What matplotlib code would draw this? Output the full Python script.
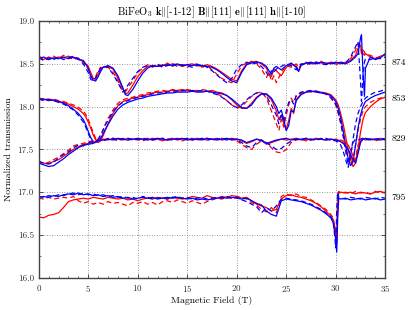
import matplotlib
matplotlib.use("Agg")
import matplotlib.pyplot as plt
from matplotlib.ticker import MultipleLocator

plt.rcParams['font.family'] = 'serif'
plt.rcParams['font.serif'] = ['cmr10']
plt.rcParams['mathtext.fontset'] = 'cm'
plt.rcParams['axes.formatter.use_mathtext'] = True

# ---------------- data ----------------
labels = ['874', '853', '829', '795']
label_y = [18.51, 18.09, 17.62, 16.93]

x874 = [0, 0.5, 1, 1.5, 2, 2.5, 3, 3.5, 4, 4.5, 5,
        5.25, 5.5, 5.75, 6, 6.25, 6.5,
        7, 7.5, 8, 8.5,
        8.75, 9,
        9.5, 10, 10.5, 11, 11.5, 12, 12.5, 13, 13.5, 14, 14.5, 15, 15.5, 16, 16.5, 17,
        17.5, 18, 18.5, 19, 19.5, 20, 20.5, 21, 21.5, 22, 22.5, 23,
        23.25, 23.5, 23.75, 24,
        24.5, 25, 25.5, 26,
        26.25, 26.5,
        27, 27.5, 28, 28.5, 29, 29.5, 30, 30.5, 31, 31.5, 32,
        32.25, 32.5, 32.6, 32.75, 32.9, 33,
        33.5, 34, 34.5, 35]
r874_solid = [18.57, 18.55, 18.58, 18.56, 18.58, 18.57, 18.59, 18.57, 18.56, 18.53, 18.47,
              18.40, 18.33, 18.32, 18.38, 18.43, 18.46,
              18.47, 18.44, 18.33, 18.21,
              18.15, 18.16,
              18.25, 18.35, 18.42, 18.47, 18.48, 18.47, 18.49, 18.48, 18.50, 18.49, 18.47, 18.49, 18.50, 18.48, 18.47, 18.49,
              18.47, 18.44, 18.40, 18.36, 18.32, 18.30, 18.42, 18.50, 18.52, 18.53, 18.50, 18.45,
              18.38, 18.35, 18.44, 18.42,
              18.36, 18.46, 18.50, 18.47,
              18.42, 18.48,
              18.51, 18.50, 18.52, 18.51, 18.50, 18.52, 18.51, 18.50, 18.52, 18.54, 18.60,
              18.68, 18.72, 18.66, 18.62, 18.60, 18.62,
              18.58, 18.56, 18.59, 18.60]
r874_dash = [18.59, 18.56, 18.55, 18.59, 18.56, 18.60, 18.58, 18.55, 18.57, 18.52, 18.44,
             18.36, 18.33, 18.35, 18.42, 18.46, 18.45,
             18.46, 18.40, 18.30, 18.18,
             18.17, 18.22,
             18.30, 18.40, 18.45, 18.49, 18.46, 18.50, 18.47, 18.51, 18.47, 18.50, 18.48, 18.46, 18.49, 18.50, 18.46, 18.48,
             18.43, 18.38, 18.33, 18.30, 18.28, 18.38, 18.48, 18.51, 18.53, 18.50, 18.44, 18.34,
             18.40, 18.30, 18.36, 18.28,
             18.40, 18.48, 18.46, 18.50,
             18.45, 18.49,
             18.52, 18.49, 18.51, 18.53, 18.50, 18.51, 18.49, 18.52, 18.51, 18.56, 18.66,
             18.74, 18.70, 18.62, 18.66, 18.64, 18.61,
             18.60, 18.57, 18.58, 18.61]
b874_solid = [18.56, 18.58, 18.55, 18.57, 18.56, 18.58, 18.56, 18.58, 18.55, 18.54, 18.45,
              18.36, 18.31, 18.30, 18.35, 18.41, 18.46,
              18.48, 18.45, 18.36, 18.22,
              18.14, 18.13,
              18.20, 18.30, 18.39, 18.45, 18.48, 18.47, 18.48, 18.49, 18.48, 18.50, 18.48, 18.49, 18.48, 18.49, 18.48, 18.47,
              18.46, 18.43, 18.39, 18.34, 18.30, 18.28, 18.40, 18.49, 18.51, 18.52, 18.51, 18.47,
              18.42, 18.38, 18.45, 18.47,
              18.43, 18.48, 18.51, 18.46,
              18.41, 18.49,
              18.51, 18.52, 18.50, 18.52, 18.51, 18.50, 18.52, 18.51, 18.50, 18.53, 18.58,
              18.62, 18.80, 18.84, 18.40, 18.12, 18.45,
              18.58, 18.55, 18.57, 18.62]
b874_dash = [18.57, 18.54, 18.57, 18.55, 18.58, 18.55, 18.57, 18.59, 18.56, 18.50, 18.40,
             18.32, 18.30, 18.34, 18.40, 18.45, 18.47,
             18.46, 18.38, 18.28, 18.17,
             18.19, 18.25,
             18.33, 18.41, 18.46, 18.48, 18.47, 18.49, 18.46, 18.48, 18.50, 18.47, 18.49, 18.48, 18.46, 18.48, 18.49, 18.46,
             18.42, 18.37, 18.32, 18.28, 18.33, 18.44, 18.49, 18.52, 18.50, 18.51, 18.47, 18.40,
             18.35, 18.42, 18.40, 18.44,
             18.47, 18.50, 18.48, 18.43,
             18.47, 18.50,
             18.49, 18.51, 18.52, 18.50, 18.49, 18.51, 18.50, 18.52, 18.51, 18.58, 18.70,
             18.76, 18.30, 18.06, 18.35, 18.52, 18.56,
             18.55, 18.57, 18.56, 18.58]

x853 = [0, 0.5, 1, 1.5, 2, 2.5, 3, 3.5, 4, 4.5,
        4.75, 5, 5.25, 5.5, 5.75, 6, 6.25, 6.5, 6.75, 7,
        7.5, 8, 8.5, 9, 9.5, 10, 10.5, 11, 11.5, 12, 12.5, 13, 13.5, 14, 14.5, 15, 15.5, 16, 16.5, 17,
        17.5, 18, 18.5, 19, 19.5,
        20, 20.5, 21, 21.5, 22, 22.5, 23,
        23.5, 24, 24.25, 24.5, 24.75, 25, 25.25, 25.5, 25.75, 26,
        26.5, 27, 27.5, 28, 28.5, 29, 29.5, 30,
        30.25, 30.5, 30.75, 31, 31.25, 31.5, 31.75, 32, 32.25, 32.5, 32.75, 33,
        33.5, 34, 34.5, 35]
r853_solid = [18.09, 18.08, 18.09, 18.07, 18.06, 18.05, 18.03, 18.00, 17.97, 17.92,
              17.88, 17.82, 17.75, 17.67, 17.61, 17.58, 17.60, 17.66, 17.73, 17.80,
              17.92, 18.01, 18.06, 18.08, 18.10, 18.11, 18.13, 18.14, 18.16, 18.17, 18.17, 18.18, 18.19, 18.19, 18.20, 18.19, 18.18, 18.19, 18.18, 18.18,
              18.19, 18.17, 18.16, 18.13, 18.08,
              18.02, 17.98, 17.98, 18.04, 18.11, 18.15, 18.14,
              18.08, 17.95, 17.85, 17.90, 17.80, 17.73, 17.84, 17.98, 17.92, 18.08,
              18.15, 18.17, 18.18, 18.18, 18.17, 18.16, 18.14, 18.08,
              18.02, 17.92, 17.80, 17.65, 17.50, 17.38, 17.30, 17.34, 17.50, 17.70, 17.85, 17.93,
              18.00, 18.05, 18.09, 18.11]
r853_dash = [18.10, 18.09, 18.08, 18.09, 18.07, 18.06, 18.04, 18.02, 17.99, 17.95,
             17.91, 17.85, 17.78, 17.70, 17.63, 17.60, 17.64, 17.72, 17.80, 17.86,
             17.96, 18.04, 18.08, 18.10, 18.11, 18.13, 18.14, 18.16, 18.17, 18.18, 18.19, 18.18, 18.20, 18.19, 18.18, 18.20, 18.19, 18.18, 18.20, 18.19,
             18.17, 18.15, 18.12, 18.07, 18.02,
             17.98, 18.00, 18.06, 18.12, 18.16, 18.17, 18.10,
             17.95, 17.80, 17.72, 17.85, 17.76, 17.90, 18.02, 18.10, 18.05, 18.12,
             18.16, 18.18, 18.17, 18.18, 18.16, 18.15, 18.10, 18.02,
             17.92, 17.80, 17.66, 17.52, 17.40, 17.32, 17.38, 17.55, 17.72, 17.85, 17.95, 18.00,
             18.05, 18.08, 18.10, 18.12]
b853_solid = [18.08, 18.09, 18.07, 18.08, 18.06, 18.04, 18.01, 17.97, 17.92, 17.85,
              17.79, 17.71, 17.64, 17.59, 17.58, 17.60, 17.63, 17.68, 17.74, 17.79,
              17.89, 17.97, 18.02, 18.05, 18.07, 18.09, 18.10, 18.12, 18.13, 18.14, 18.15, 18.16, 18.16, 18.17, 18.17, 18.17, 18.18, 18.17, 18.17, 18.18,
              18.17, 18.16, 18.15, 18.13, 18.09,
              18.04, 17.99, 17.98, 18.02, 18.10, 18.15, 18.15,
              18.10, 18.00, 17.92, 17.96, 17.85, 17.72, 17.78, 17.95, 17.94, 18.07,
              18.14, 18.17, 18.18, 18.17, 18.16, 18.15, 18.13, 18.06,
              17.98, 17.87, 17.72, 17.55, 17.40, 17.31, 17.36, 17.55, 17.75, 17.90, 18.00, 18.06,
              18.10, 18.13, 18.15, 18.17]
b853_dash = [18.09, 18.07, 18.08, 18.07, 18.05, 18.03, 18.00, 17.96, 17.90, 17.82,
             17.76, 17.69, 17.62, 17.58, 17.59, 17.62, 17.67, 17.73, 17.79, 17.84,
             17.94, 18.01, 18.05, 18.07, 18.09, 18.11, 18.12, 18.13, 18.15, 18.16, 18.16, 18.17, 18.18, 18.18, 18.19, 18.18, 18.19, 18.18, 18.19, 18.18,
             18.16, 18.14, 18.11, 18.07, 18.02,
             17.99, 18.02, 18.08, 18.13, 18.16, 18.16, 18.12,
             18.02, 17.90, 17.80, 17.92, 17.82, 17.95, 18.05, 18.08, 18.03, 18.13,
             18.17, 18.18, 18.19, 18.18, 18.17, 18.15, 18.11, 18.03,
             17.94, 17.82, 17.66, 17.48, 17.33, 17.42, 17.62, 17.80, 17.92, 18.00, 18.06, 18.10,
             18.14, 18.17, 18.18, 18.20]

x829 = [0, 0.5, 1, 1.5, 2, 2.5, 3, 3.5, 4, 4.5, 5, 5.5, 6, 6.5, 7, 7.5, 8, 8.5, 9, 9.5,
        10, 10.5, 11, 11.5, 12, 12.5, 13, 13.5, 14, 14.5, 15, 15.5, 16, 16.5, 17, 17.5, 18, 18.5, 19, 19.5, 20,
        20.5, 21, 21.5, 22, 22.5, 23, 23.5, 24, 24.5, 25, 25.5, 26, 26.5, 27, 27.5, 28, 28.5, 29, 29.5, 30,
        30.25, 30.5, 30.75, 31, 31.25, 31.5, 31.75, 32, 32.25, 32.5, 32.75, 33,
        33.5, 34, 34.5, 35]
r829_solid = [17.35, 17.34, 17.33, 17.36, 17.38, 17.42, 17.46, 17.50, 17.53, 17.56, 17.57, 17.58, 17.60, 17.62, 17.61, 17.63, 17.62, 17.61, 17.63, 17.62,
              17.61, 17.62, 17.63, 17.61, 17.62, 17.60, 17.62, 17.63, 17.61, 17.62, 17.62, 17.61, 17.63, 17.62, 17.61, 17.62, 17.63, 17.61, 17.62, 17.63, 17.62,
              17.60, 17.57, 17.59, 17.62, 17.61, 17.56, 17.58, 17.60, 17.62, 17.61, 17.62, 17.63, 17.61, 17.62, 17.61, 17.63, 17.62, 17.61, 17.62, 17.61,
              17.60, 17.61, 17.60, 17.58, 17.55, 17.50, 17.42, 17.36, 17.48, 17.60, 17.62, 17.61,
              17.62, 17.61, 17.63, 17.62]
r829_dash = [17.37, 17.33, 17.35, 17.38, 17.41, 17.45, 17.49, 17.54, 17.56, 17.57, 17.59, 17.60, 17.62, 17.61, 17.63, 17.62, 17.60, 17.63, 17.61, 17.63,
             17.62, 17.60, 17.62, 17.63, 17.61, 17.63, 17.61, 17.62, 17.63, 17.60, 17.62, 17.63, 17.61, 17.62, 17.63, 17.61, 17.62, 17.63, 17.61, 17.62, 17.60,
             17.56, 17.52, 17.50, 17.56, 17.60, 17.58, 17.52, 17.47, 17.46, 17.50, 17.58, 17.61, 17.62, 17.60, 17.62, 17.61, 17.63, 17.62, 17.61, 17.62,
             17.61, 17.60, 17.58, 17.55, 17.50, 17.42, 17.35, 17.40, 17.55, 17.62, 17.63, 17.61,
             17.62, 17.60, 17.62, 17.61]
b829_solid = [17.34, 17.32, 17.30, 17.31, 17.35, 17.39, 17.44, 17.48, 17.52, 17.55, 17.56, 17.57, 17.60, 17.61, 17.62, 17.61, 17.63, 17.62, 17.61, 17.62,
              17.63, 17.62, 17.61, 17.62, 17.63, 17.62, 17.61, 17.62, 17.62, 17.63, 17.61, 17.62, 17.62, 17.61, 17.63, 17.62, 17.61, 17.62, 17.63, 17.61, 17.62,
              17.61, 17.58, 17.60, 17.62, 17.60, 17.57, 17.59, 17.61, 17.62, 17.63, 17.61, 17.62, 17.62, 17.63, 17.61, 17.62, 17.62, 17.61, 17.62, 17.61,
              17.60, 17.59, 17.57, 17.54, 17.50, 17.44, 17.38, 17.34, 17.45, 17.58, 17.62, 17.63,
              17.62, 17.62, 17.61, 17.62]
b829_dash = [17.36, 17.34, 17.33, 17.35, 17.40, 17.44, 17.47, 17.52, 17.55, 17.54, 17.58, 17.59, 17.61, 17.60, 17.62, 17.63, 17.61, 17.62, 17.63, 17.61,
             17.62, 17.63, 17.62, 17.61, 17.62, 17.63, 17.62, 17.61, 17.62, 17.62, 17.63, 17.61, 17.62, 17.63, 17.61, 17.62, 17.62, 17.63, 17.61, 17.62, 17.61,
             17.58, 17.54, 17.52, 17.58, 17.61, 17.58, 17.54, 17.50, 17.51, 17.56, 17.60, 17.62, 17.61, 17.63, 17.62, 17.61, 17.62, 17.63, 17.61, 17.60,
             17.58, 17.55, 17.48, 17.38, 17.29, 17.45, 17.58, 17.62, 17.61, 17.62, 17.63, 17.62,
             17.61, 17.62, 17.63, 17.62]

x795 = [0, 0.5, 1, 1.5, 2, 2.5, 3, 3.5, 4, 4.5, 5, 5.5, 6, 6.5, 7, 7.5, 8, 8.5, 9, 9.5,
        10, 10.5, 11, 11.5, 12, 12.5, 13, 13.5, 14, 14.5, 15, 15.5, 16, 16.5, 17, 17.5, 18, 18.5, 19, 19.5,
        20, 20.5, 21, 21.5, 22, 22.5, 23, 23.5, 24, 24.5, 25, 25.5, 26, 26.5, 27, 27.5, 28, 28.5, 29, 29.5,
        29.75, 30, 30.1, 30.2, 30.3, 30.5,
        31, 31.5, 32, 32.5, 33, 33.5, 34, 34.5, 35]
r795_solid = [16.71, 16.70, 16.73, 16.74, 16.76, 16.82, 16.89, 16.91, 16.92, 16.93, 16.92, 16.94, 16.93, 16.92, 16.94, 16.93, 16.92, 16.93, 16.91, 16.92,
              16.90, 16.92, 16.93, 16.92, 16.94, 16.93, 16.92, 16.94, 16.93, 16.92, 16.93, 16.95, 16.94, 16.93, 16.96, 16.94, 16.93, 16.95, 16.94, 16.96,
              16.95, 16.93, 16.94, 16.90, 16.86, 16.84, 16.82, 16.78, 16.80, 16.92, 16.96, 16.97, 16.95, 16.94, 16.92, 16.90, 16.87, 16.83, 16.78, 16.72,
              16.68, 16.55, 16.40, 16.85, 16.99, 17.00,
              16.99, 17.00, 16.98, 17.00, 16.99, 16.98, 17.00, 17.01, 16.99]
r795_dash = [16.93, 16.92, 16.94, 16.92, 16.93, 16.94, 16.93, 16.95, 16.90, 16.87, 16.89, 16.86, 16.88, 16.86, 16.89, 16.87, 16.88, 16.86, 16.84, 16.88,
             16.87, 16.89, 16.86, 16.88, 16.85, 16.89, 16.90, 16.88, 16.91, 16.89, 16.87, 16.90, 16.88, 16.86, 16.89, 16.91, 16.93, 16.92, 16.94, 16.93,
             16.95, 16.94, 16.92, 16.88, 16.85, 16.80, 16.77, 16.82, 16.76, 16.95, 16.98, 16.96, 16.98, 16.95, 16.94, 16.91, 16.88, 16.84, 16.80, 16.74,
             16.70, 16.45, 16.62, 16.98, 17.01, 16.99,
             17.00, 16.98, 17.01, 16.99, 17.00, 16.98, 17.01, 16.99, 17.00]
b795_solid = [16.94, 16.95, 16.94, 16.96, 16.95, 16.97, 16.98, 16.97, 16.99, 16.97, 16.98, 16.96, 16.97, 16.95, 16.96, 16.94, 16.95, 16.93, 16.94, 16.92,
              16.93, 16.94, 16.93, 16.94, 16.92, 16.93, 16.94, 16.93, 16.94, 16.93, 16.92, 16.93, 16.91, 16.92, 16.91, 16.92, 16.93, 16.94, 16.93, 16.94,
              16.93, 16.92, 16.93, 16.90, 16.87, 16.85, 16.78, 16.74, 16.72, 16.90, 16.92, 16.91, 16.90, 16.89, 16.87, 16.85, 16.82, 16.79, 16.75, 16.70,
              16.64, 16.45, 16.30, 16.70, 16.93, 16.92,
              16.93, 16.91, 16.92, 16.93, 16.91, 16.92, 16.93, 16.91, 16.92]
b795_dash = [16.95, 16.94, 16.96, 16.95, 16.97, 16.96, 16.98, 16.99, 16.97, 16.99, 16.97, 16.98, 16.96, 16.97, 16.95, 16.96, 16.94, 16.95, 16.93, 16.94,
             16.92, 16.95, 16.94, 16.92, 16.93, 16.94, 16.92, 16.94, 16.95, 16.93, 16.94, 16.92, 16.93, 16.94, 16.92, 16.93, 16.94, 16.93, 16.95, 16.93,
             16.94, 16.91, 16.89, 16.86, 16.83, 16.76, 16.82, 16.78, 16.84, 16.92, 16.93, 16.92, 16.91, 16.90, 16.88, 16.86, 16.83, 16.80, 16.76, 16.71,
             16.66, 16.35, 16.80, 17.00, 16.94, 16.93,
             16.92, 16.94, 16.93, 16.92, 16.94, 16.93, 16.92, 16.94, 16.93]

groups = [
    (x874, r874_solid, r874_dash, b874_solid, b874_dash),
    (x853, r853_solid, r853_dash, b853_solid, b853_dash),
    (x829, r829_solid, r829_dash, b829_solid, b829_dash),
    (x795, r795_solid, r795_dash, b795_solid, b795_dash),
]

# ---------------- plot ----------------
fig = plt.figure(figsize=(4.15, 3.10), dpi=100)
ax = fig.add_axes([0.0933, 0.104, 0.835, 0.828])

for xs, rs, rd, bs, bd in groups:
    ax.plot(xs, rs, color='red', lw=0.9, ls='-')
    ax.plot(xs, rd, color='red', lw=0.9, ls=(0, (4, 2.5)))
    ax.plot(xs, bs, color='blue', lw=0.9, ls='-')
    ax.plot(xs, bd, color='blue', lw=0.9, ls=(0, (4, 2.5)))

for lab, ly in zip(labels, label_y):
    ax.text(35.6, ly, lab, fontsize=7, va='center', ha='left', clip_on=False)

ax.set_xlim(0, 35)
ax.set_ylim(16.0, 19.0)
ax.xaxis.set_major_locator(MultipleLocator(5))
ax.xaxis.set_minor_locator(MultipleLocator(1))
ax.yaxis.set_major_locator(MultipleLocator(0.5))
ax.yaxis.set_minor_locator(MultipleLocator(0.25))
ax.yaxis.set_major_formatter(matplotlib.ticker.FormatStrFormatter('%.1f'))
ax.tick_params(which='both', direction='in', top=True, right=True, labelsize=6.5, colors='#333333')
ax.tick_params(which='major', length=3, width=0.6)
ax.tick_params(which='minor', length=1.5, width=0.5)
ax.grid(True, which='major', ls=(0, (1, 2)), color='#777777', lw=0.6)
for sp in ax.spines.values():
    sp.set_linewidth(1.0)
    sp.set_color('#444444')

ax.set_xlabel('Magnetic Field (T)', fontsize=7, labelpad=2)
ax.set_ylabel('Normalized transmission', fontsize=7, labelpad=3)
ax.set_title(r'BiFeO$_3$ $\mathbf{k}\|$[-1-12] $\mathbf{B}\|$[111] $\mathbf{e}\|$[111] $\mathbf{h}\|$[1-10]',
             fontsize=7.5, pad=4)

fig.savefig('out.png', dpi=100)
